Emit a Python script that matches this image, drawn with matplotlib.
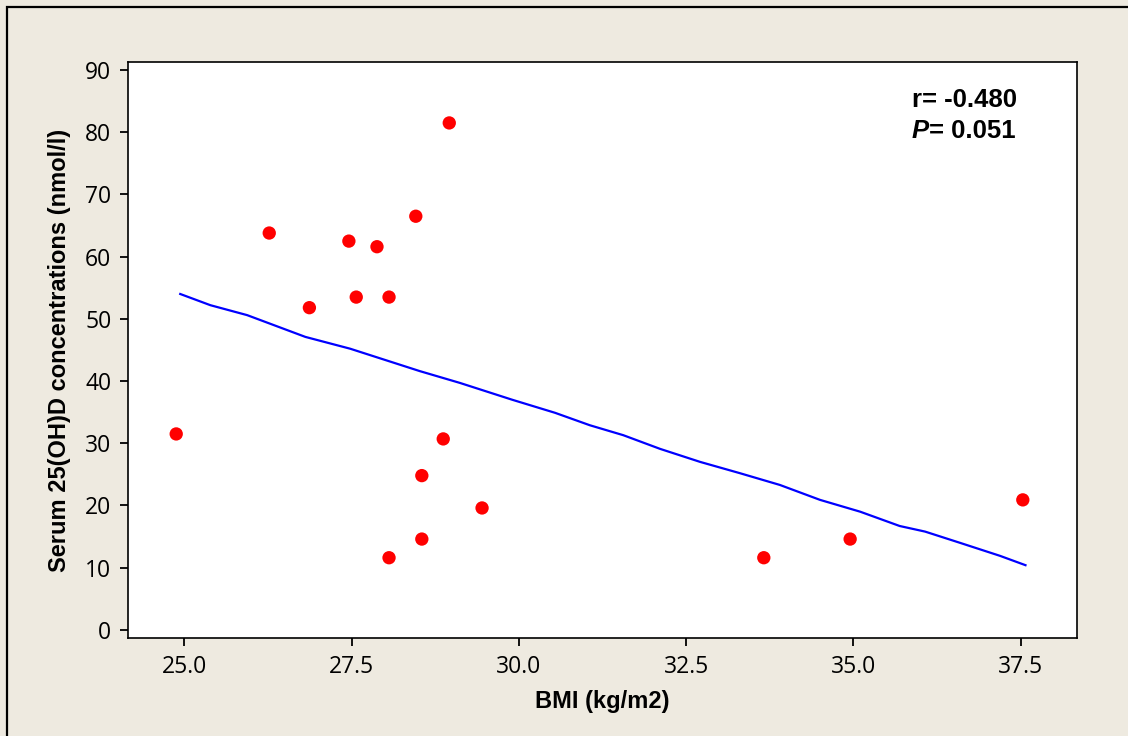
import matplotlib
matplotlib.use("Agg")
import matplotlib.pyplot as plt
from matplotlib.patches import Rectangle

# BMI vs serum 25(OH)D
bmi = [24.88, 26.27, 26.87, 27.46, 27.57, 27.88, 28.06, 28.46, 28.96,
       28.06, 28.55, 28.55, 28.87, 29.45, 33.66, 34.95, 37.53]
vitd = [31.5, 63.8, 51.8, 62.5, 53.5, 61.6, 53.5, 66.5, 81.5,
        11.6, 24.8, 14.6, 30.7, 19.6, 11.6, 14.6, 20.9]

# smoothed fit line
fit_x = [24.94, 25.39, 25.94, 26.81, 27.48, 28.00, 28.52, 29.12, 29.90, 30.54,
         31.06, 31.56, 32.11, 32.71, 33.30, 33.90, 34.50, 35.10, 35.69, 36.07,
         36.59, 37.19, 37.57]
fit_y = [54.0, 52.2, 50.6, 47.1, 45.2, 43.4, 41.6, 39.7, 37.0, 34.9,
         32.9, 31.3, 29.1, 27.0, 25.2, 23.3, 20.9, 19.0, 16.7, 15.8,
         14.0, 11.9, 10.4]

xticks = [25.0, 27.5, 30.0, 32.5, 35.0, 37.5]
yticks = [0, 10, 20, 30, 40, 50, 60, 70, 80, 90]

bg = "#eeeae0"
fig = plt.figure(figsize=(11.28, 7.36), dpi=100, facecolor=bg)
fig.patches.append(Rectangle((0.0062, -0.05), 1.1, 0.9905 + 0.05, transform=fig.transFigure,
                             facecolor="none", edgecolor="black", linewidth=1.6))
ax = fig.add_axes([0.1135, 0.1332, 0.9548 - 0.1135, 0.9158 - 0.1332])
ax.set_facecolor("white")

ax.plot(fit_x, fit_y, color="#0000ff", linewidth=1.6, zorder=2)
ax.scatter(bmi, vitd, s=92, color="#ff0000", edgecolors="none", zorder=3)

ax.set_xlim(24.16, 38.34)
ax.set_ylim(-1.3, 91.3)
ax.set_xticks(xticks)
ax.set_xticklabels([f"{v:.1f}" for v in xticks])
ax.set_yticks(yticks)
for s in ax.spines.values():
    s.set_linewidth(1.2)
ax.tick_params(direction="out", length=6, width=1.3, labelsize=16.5, pad=6)
for lab in ax.get_xticklabels() + ax.get_yticklabels():
    lab.set_fontfamily("Open Sans")

ax.set_xlabel("BMI (kg/m2)", fontsize=17, fontweight="bold", family="Liberation Sans", labelpad=8)
ax.set_ylabel("Serum 25(OH)D concentrations (nmol/l)", fontsize=17, fontweight="bold",
              family="Liberation Sans", labelpad=10)

ax.text(0.826, 0.934, "r= -0.480", transform=ax.transAxes, fontsize=18.5, fontweight="bold",
        family="Liberation Sans", va="center", ha="left")
ptxt = ax.text(0.826, 0.880, "P", transform=ax.transAxes, fontsize=18.5, fontweight="bold",
               fontstyle="italic", family="Liberation Sans", va="center", ha="left")
ax.annotate("= 0.051", xy=(1.0, 0.5), xycoords=ptxt, fontsize=18.5, fontweight="bold",
            family="Liberation Sans", va="center", ha="left")

fig.savefig("out.png", dpi=100, facecolor=bg)
